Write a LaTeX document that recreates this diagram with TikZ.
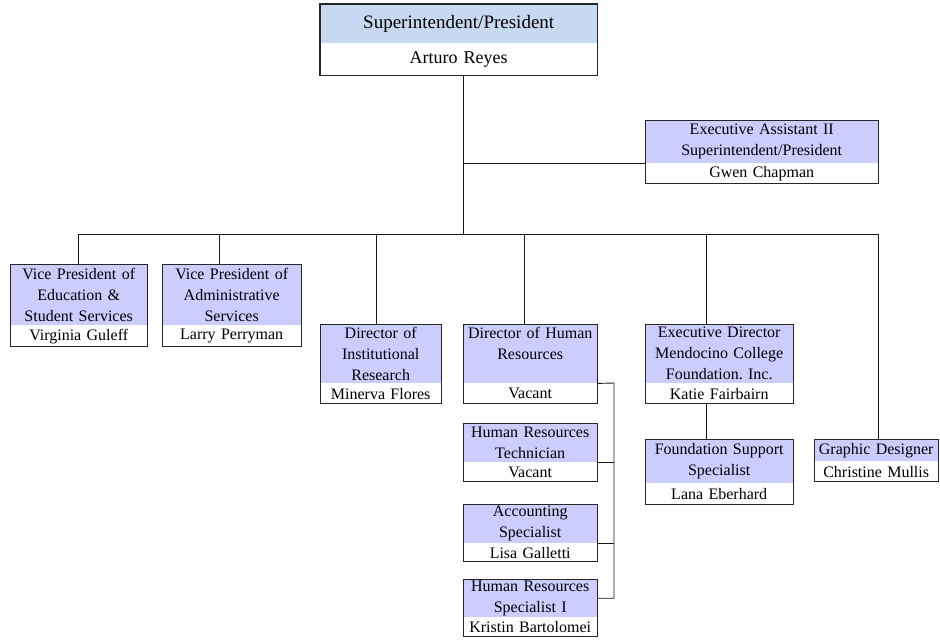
\documentclass[tikz,border=0pt]{standalone}
\usepackage{fontspec}
\setmainfont{Liberation Serif}
\frenchspacing
\definecolor{lav}{RGB}{204,204,255}
\definecolor{topblue}{RGB}{198,217,240}
\begin{document}
\begin{tikzpicture}[x=1pt,y=-1pt,
  box/.style={draw=black!85, line width=1pt},
  head/.style={anchor=north west, fill=lav, inner xsep=2pt, inner ysep=0pt, align=center, font=\fontsize{16}{21}\selectfont},
  who/.style={head, fill=white},
  link/.style={draw=black!90, line width=0.9pt}]
\useasboundingbox (0,0) rectangle (940,640);
% president
\node [head, fill=topblue, text width=273pt, minimum height=39pt, font=\fontsize{19}{22}\selectfont] (pres) at (320,4) {Superintendent/President};
\node [who, text width=273pt, minimum height=32pt, font=\fontsize{18}{22}\selectfont] (presn) at (pres.south west) {Arturo Reyes};
% executive assistant
\node [head, text width=229pt, minimum height=43pt] (ea) at (645,120) {Executive Assistant II\\Superintendent/President};
\node [who, text width=229pt, minimum height=20pt] (ean) at (ea.south west) {Gwen Chapman};
% vice presidents
\node [head, text width=133pt, minimum height=61pt] (vped) at (10,264) {Vice President of\\Education \&\\Student Services};
\node [who, text width=133pt, minimum height=21pt] (vpedn) at (vped.south west) {Virginia Guleff};
\node [head, text width=135pt, minimum height=61pt] (vpadm) at (162,264) {Vice President of\\Administrative\\Services};
\node [who, text width=135pt, minimum height=21pt] (vpadmn) at (vpadm.south west) {Larry Perryman};
% directors
\node [head, text width=117pt, minimum height=59pt] (dirir) at (320,324) {Director of\\Institutional\\Research};
\node [who, text width=117pt, minimum height=20pt] (dirirn) at (dirir.south west) {Minerva Flores};
\node [head, text width=130pt, minimum height=59pt] (dirhr) at (463,324) {Director of Human\\Resources\\~};
\node [who, text width=130pt, minimum height=20pt] (dirhrn) at (dirhr.south west) {Vacant};
\node [head, text width=144pt, minimum height=59pt] (exdir) at (645,324) {Executive Director\\Mendocino College\\Foundation. Inc.};
\node [who, text width=144pt, minimum height=20pt] (exdirn) at (exdir.south west) {Katie Fairbairn};
\node [head, text width=120pt, minimum height=22pt] (gd) at (814,439) {Graphic Designer};
\node [who, text width=120pt, minimum height=20pt] (gdn) at (gd.south west) {Christine Mullis};
% human resources staff
\node [head, text width=130pt, minimum height=39pt] (hrtech) at (463,423) {Human Resources\\Technician};
\node [who, text width=130pt, minimum height=19pt] (hrtechn) at (hrtech.south west) {Vacant};
\node [head, text width=130pt, minimum height=39pt] (acct) at (463,504) {Accounting\\Specialist};
\node [who, text width=130pt, minimum height=18pt] (acctn) at (acct.south west) {Lisa Galletti};
\node [head, text width=130pt, minimum height=38pt] (hrsp) at (463,579) {Human Resources\\Specialist I};
\node [who, text width=130pt, minimum height=19pt] (hrspn) at (hrsp.south west) {Kristin Bartolomei};
% foundation staff
\node [head, text width=144pt, minimum height=44pt] (fss) at (645,439) {Foundation Support\\Specialist};
\node [who, text width=144pt, minimum height=21pt] (fssn) at (fss.south west) {Lana Eberhard};
% frames
\draw [box, line width=1.3pt] (pres.north west) rectangle (presn.south east);
\foreach \n in {ea,vped,vpadm,dirir,dirhr,exdir,gd,hrtech,acct,hrsp,fss}
  \draw [box] (\n.north west) rectangle (\n n.south east);
% lines
\coordinate (bus) at (463,234);
\coordinate (rail) at (614,383);
\draw [link] (presn.south -| bus) -- (bus);
\draw [link] (ea.south west) -- (ea.south west -| bus);
\draw [link] (vped.north |- bus) -- ([xshift=2pt]gd.north |- bus);
\foreach \n/\dx in {vped/0,vpadm/-12.5,dirir/-4.5,dirhr/-6,exdir/-13,gd/2}
  \draw [link] ([xshift=\dx pt]\n.north |- bus) -- ([xshift=\dx pt]\n.north);
\draw [link] ([xshift=-13pt]exdirn.south) -- ([xshift=-13pt]fss.north);
\draw [link] (dirhr.south east) -- (rail) |- (hrsp.east);
\draw [link] (hrtech.south east) -- (hrtech.south east -| rail);
\draw [link] (acct.south east) -- (acct.south east -| rail);
\end{tikzpicture}
\end{document}
